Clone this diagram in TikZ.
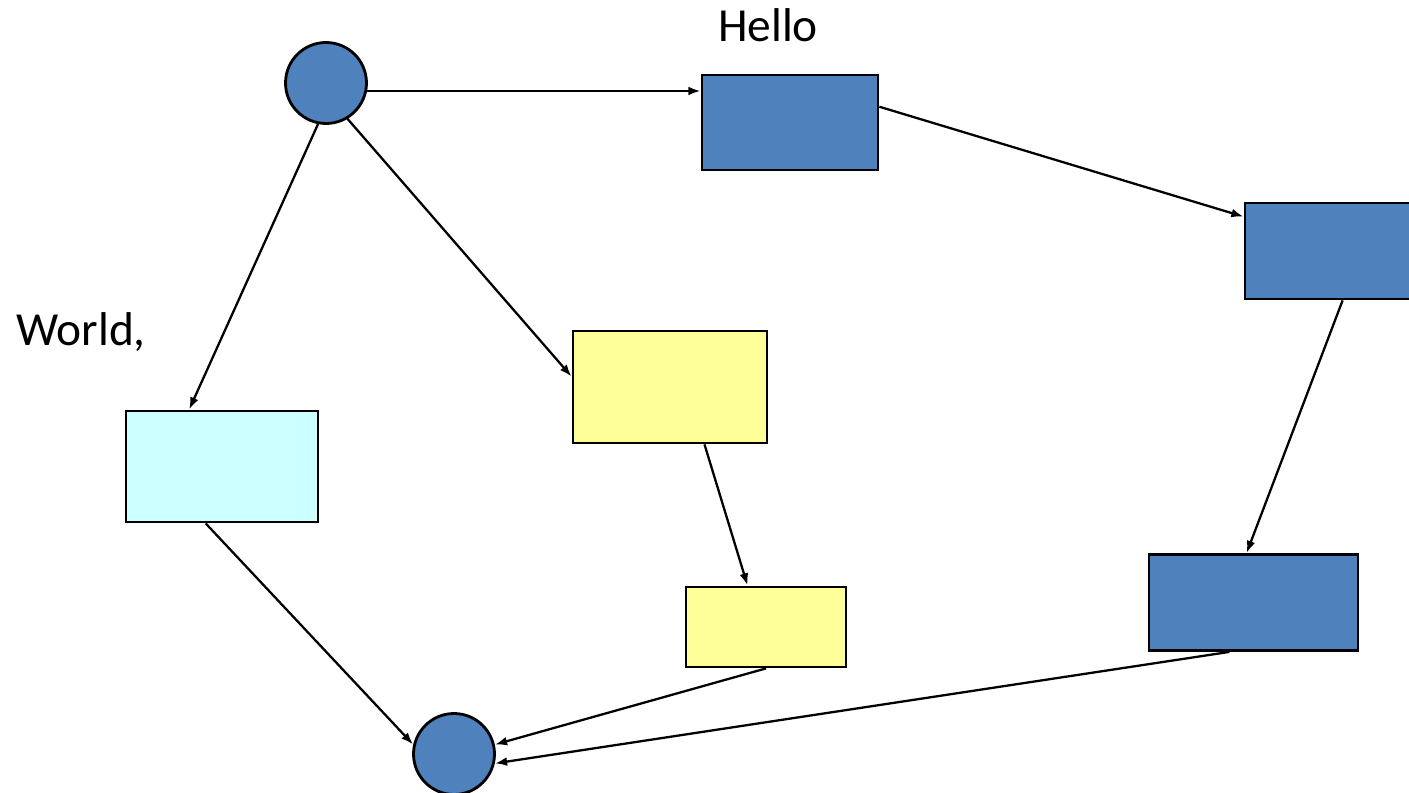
\documentclass[tikz,border=0pt]{standalone}
\usepackage{fontspec}
\setmainfont{Carlito}
\usetikzlibrary{
    shapes.geometric,
    arrows.meta,
    positioning,
    calc
}
\definecolor{colorBlue}{RGB}{79, 129, 189}
\definecolor{colorYellow}{RGB}{255, 255, 153}
\definecolor{colorCyan}{RGB}{204, 255, 255}
\tikzset{
    circleBlue/.style={
        circle, draw=black, line width=1.6pt, fill=colorBlue,
        minimum size=1.62cm, inner sep=0pt
    },
    boxBlue/.style={
        rectangle, draw=black, line width=1.6pt, fill=colorBlue,
        inner sep=0pt
    },
    boxYellow/.style={
        rectangle, draw=black, line width=1.6pt, fill=colorYellow,
        inner sep=0pt
    },
    boxCyan/.style={
        rectangle, draw=black, line width=1.6pt, fill=colorCyan,
        inner sep=0pt
    },
    arrowLine/.style={
        -{Latex[length=7pt,width=5pt]},
        line width=1.3pt, color=black
    },
    labelText/.style={
        font=\fontsize{27}{32}\selectfont, inner sep=0pt, text=black
    },
}

\begin{document}
\begin{tikzpicture}[x=0.02cm, y=-0.02cm]

    % ----------------------------------------------------------
    % MARCO — mismo tamaño que la imagen (1409 x 793)
    % ----------------------------------------------------------
    \useasboundingbox (0,0) rectangle (1409,793);

    % ----------------------------------------------------------
    % NODOS — posiciones absolutas
    % ----------------------------------------------------------

    % Circulos
    \node[circleBlue] at (326,  83) (topCircle)    {};
    \node[circleBlue] at (454, 754) (bottomCircle) {};

    % Rama derecha (azul)
    \node[boxBlue, minimum width=3.52cm, minimum height=1.90cm]
        at ( 790, 122.5) (helloBox) {};
    \node[boxBlue, minimum width=3.52cm, minimum height=1.92cm]
        at (1333, 251)   (rightBox) {};
    \node[boxBlue, minimum width=4.18cm, minimum height=1.92cm]
        at (1253.5, 602.5) (lowerRightBox) {};

    % Rama central (amarillo)
    \node[boxYellow, minimum width=3.88cm, minimum height=2.24cm]
        at (670, 387) (yellowTop) {};
    \node[boxYellow, minimum width=3.20cm, minimum height=1.60cm]
        at (766, 627) (yellowBottom) {};

    % Rama izquierda (cian)
    \node[boxCyan, minimum width=3.84cm, minimum height=2.22cm]
        at (222, 466.5) (cyanBox) {};

    % Textos
    \node[labelText, anchor=base]      at (768, 42) (helloLabel) {Hello};
    \node[labelText, anchor=base west] at (16, 346) (worldLabel) {World,};

    % ----------------------------------------------------------
    % FLECHAS
    % ----------------------------------------------------------
    \draw[arrowLine] (topCircle.-11) -- (topCircle.-11 -| helloBox.west);
    \draw[arrowLine] (topCircle.-59)  -- (yellowTop.174);
    \draw[arrowLine] (topCircle.-101) -- (cyanBox.120);

    \draw[arrowLine] (helloBox.10)    -- (rightBox.159);
    \draw[arrowLine] (rightBox.-79)   -- (lowerRightBox.98);

    \draw[arrowLine] (yellowTop.-59.5) -- (yellowBottom.114);

    % ----------------------------------------------------------
    % LLEGADAS AL CIRCULO INFERIOR
    % ----------------------------------------------------------
    \draw[arrowLine] (cyanBox.-106)       -- (bottomCircle.167);
    \draw[arrowLine] (yellowBottom.south) -- (bottomCircle.13);
    \draw[arrowLine] (lowerRightBox.-116) -- (bottomCircle.-13);

\end{tikzpicture}
\end{document}
